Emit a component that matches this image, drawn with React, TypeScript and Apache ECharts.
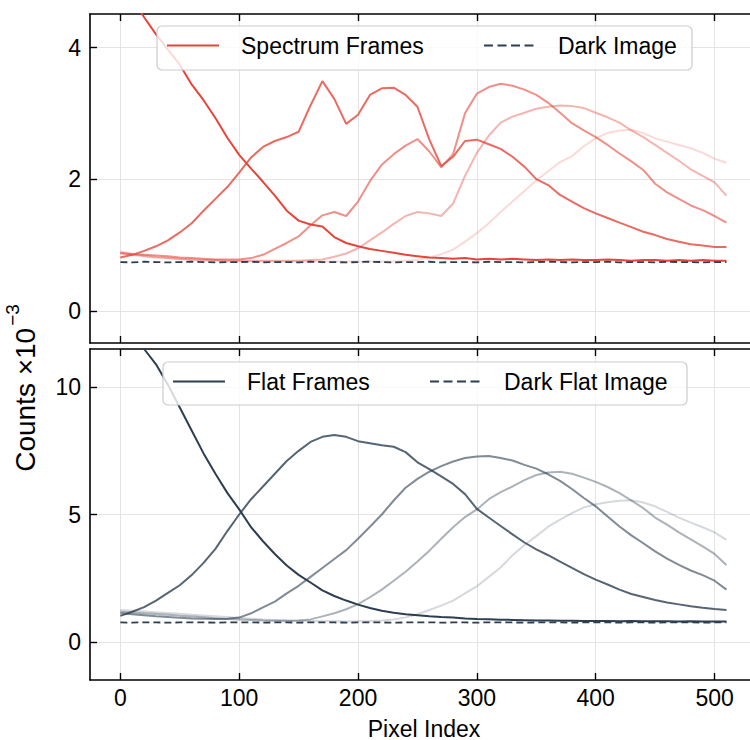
import React, { useEffect, useRef } from "react";
import * as echarts from "echarts";

// Pixel index positions of the sampled points
const PIXEL = [0, 10, 20, 30, 40, 50, 60, 70, 80, 90, 100, 110, 120, 130, 140, 150, 160, 170, 180, 190, 200, 210, 220, 230, 240, 250, 260, 270, 280, 290, 300, 310, 320, 330, 340, 350, 360, 370, 380, 390, 400, 410, 420, 430, 440, 450, 460, 470, 480, 490, 500, 510];

// Top panel: spectrum frames (counts x 1e-3)
const SPEC_1 = [4.95, 4.73, 4.46, 4.2, 3.97, 3.74, 3.44, 3.2, 2.93, 2.63, 2.37, 2.16, 1.96, 1.75, 1.52, 1.37, 1.31, 1.28, 1.12, 1.03, 0.98, 0.94, 0.91, 0.88, 0.85, 0.83, 0.81, 0.8, 0.79, 0.8, 0.78, 0.79, 0.78, 0.79, 0.78, 0.77, 0.78, 0.77, 0.78, 0.77, 0.77, 0.78, 0.77, 0.76, 0.77, 0.77, 0.76, 0.77, 0.76, 0.77, 0.76, 0.76];
const SPEC_2 = [0.81, 0.85, 0.91, 0.98, 1.07, 1.19, 1.33, 1.52, 1.7, 1.88, 2.1, 2.33, 2.49, 2.58, 2.64, 2.72, 3.12, 3.49, 3.22, 2.84, 2.98, 3.28, 3.38, 3.39, 3.28, 3.1, 2.6, 2.2, 2.34, 2.58, 2.6, 2.53, 2.46, 2.34, 2.19, 2.0, 1.91, 1.76, 1.66, 1.56, 1.48, 1.41, 1.34, 1.27, 1.2, 1.15, 1.09, 1.05, 1.01, 0.99, 0.97, 0.97];
const SPEC_3 = [0.88, 0.86, 0.85, 0.84, 0.83, 0.81, 0.8, 0.79, 0.78, 0.78, 0.78, 0.8, 0.85, 0.94, 1.03, 1.13, 1.3, 1.45, 1.5, 1.44, 1.66, 1.97, 2.22, 2.38, 2.51, 2.61, 2.42, 2.18, 2.38, 3.0, 3.3, 3.4, 3.45, 3.42, 3.36, 3.28, 3.16, 3.01, 2.85, 2.74, 2.64, 2.52, 2.39, 2.27, 2.14, 1.93, 1.8, 1.7, 1.6, 1.53, 1.44, 1.34];
const SPEC_4 = [0.87, 0.85, 0.83, 0.81, 0.8, 0.79, 0.78, 0.77, 0.77, 0.76, 0.76, 0.76, 0.76, 0.76, 0.76, 0.76, 0.77, 0.78, 0.82, 0.87, 0.95, 1.07, 1.19, 1.32, 1.44, 1.5, 1.48, 1.44, 1.63, 2.05, 2.4, 2.66, 2.86, 2.95, 3.01, 3.07, 3.1, 3.12, 3.11, 3.08, 3.01, 2.94, 2.86, 2.74, 2.64, 2.52, 2.4, 2.28, 2.15, 2.05, 1.95, 1.75];
const SPEC_5 = [0.9, 0.87, 0.84, 0.82, 0.8, 0.78, 0.77, 0.76, 0.76, 0.75, 0.75, 0.75, 0.75, 0.75, 0.75, 0.75, 0.75, 0.75, 0.75, 0.75, 0.75, 0.75, 0.75, 0.75, 0.76, 0.77, 0.81, 0.86, 0.93, 1.05, 1.18, 1.33, 1.5, 1.66, 1.82, 1.98, 2.12, 2.26, 2.35, 2.5, 2.62, 2.7, 2.74, 2.75, 2.7, 2.62, 2.57, 2.52, 2.47, 2.4, 2.31, 2.25];
const DARK_IMAGE = [0.74, 0.735, 0.745, 0.74, 0.735, 0.74, 0.745, 0.74, 0.735, 0.74, 0.74, 0.745, 0.735, 0.74, 0.74, 0.735, 0.745, 0.74, 0.74, 0.735, 0.74, 0.745, 0.74, 0.735, 0.74, 0.74, 0.745, 0.735, 0.74, 0.74, 0.735, 0.745, 0.74, 0.74, 0.735, 0.74, 0.745, 0.74, 0.735, 0.74, 0.74, 0.745, 0.735, 0.74, 0.74, 0.735, 0.745, 0.74, 0.74, 0.735, 0.74, 0.74];

// Bottom panel: flat frames (counts x 1e-3)
const FLAT_1 = [12.9, 12.2, 11.5, 10.9, 10.1, 9.2, 8.3, 7.4, 6.6, 5.85, 5.2, 4.5, 3.95, 3.45, 3.0, 2.63, 2.33, 2.02, 1.8, 1.62, 1.46, 1.33, 1.22, 1.14, 1.08, 1.04, 1.0, 0.97, 0.95, 0.92, 0.9, 0.89, 0.87, 0.86, 0.85, 0.84, 0.84, 0.83, 0.83, 0.82, 0.82, 0.82, 0.81, 0.82, 0.81, 0.81, 0.81, 0.8, 0.81, 0.8, 0.8, 0.8];
const FLAT_2 = [1.02, 1.18, 1.36, 1.62, 1.92, 2.22, 2.62, 3.1, 3.65, 4.35, 5.0, 5.6, 6.1, 6.6, 7.1, 7.5, 7.85, 8.05, 8.12, 8.05, 7.88, 7.8, 7.72, 7.66, 7.45, 7.05, 6.78, 6.5, 6.2, 5.8, 5.22, 4.88, 4.55, 4.22, 3.9, 3.63, 3.4, 3.15, 2.9, 2.66, 2.44, 2.25, 2.05, 1.88, 1.76, 1.64, 1.54, 1.47, 1.4, 1.34, 1.29, 1.25];
const FLAT_3 = [1.12, 1.08, 1.04, 1.0, 0.97, 0.94, 0.92, 0.91, 0.9, 0.91, 0.95, 1.12, 1.35, 1.58, 1.9, 2.2, 2.55, 2.9, 3.25, 3.6, 4.05, 4.52, 5.0, 5.55, 6.05, 6.4, 6.68, 6.9, 7.08, 7.22, 7.28, 7.3, 7.22, 7.12, 6.95, 6.8, 6.58, 6.32, 6.0, 5.65, 5.32, 4.92, 4.53, 4.18, 3.87, 3.55, 3.27, 3.02, 2.8, 2.62, 2.4, 2.05];
const FLAT_4 = [1.18, 1.15, 1.12, 1.09, 1.06, 1.02, 0.99, 0.96, 0.93, 0.9, 0.88, 0.86, 0.84, 0.83, 0.83, 0.84, 0.88, 1.0, 1.12, 1.28, 1.48, 1.75, 2.05, 2.4, 2.75, 3.15, 3.58, 4.05, 4.5, 4.9, 5.2, 5.6, 5.88, 6.1, 6.35, 6.55, 6.65, 6.68, 6.6, 6.45, 6.28, 6.08, 5.84, 5.55, 5.25, 4.88, 4.6, 4.3, 4.02, 3.75, 3.45, 3.02];
const FLAT_5 = [1.25, 1.22, 1.19, 1.16, 1.13, 1.1, 1.06, 1.03, 1.0, 0.97, 0.94, 0.91, 0.88, 0.86, 0.84, 0.83, 0.82, 0.81, 0.81, 0.8, 0.81, 0.82, 0.84, 0.88, 0.96, 1.08, 1.25, 1.42, 1.62, 1.9, 2.18, 2.55, 2.92, 3.4, 3.8, 4.15, 4.52, 4.8, 5.05, 5.28, 5.4, 5.48, 5.54, 5.56, 5.47, 5.32, 5.1, 4.88, 4.68, 4.5, 4.3, 4.0];
const DARK_FLAT = [0.76, 0.755, 0.765, 0.76, 0.755, 0.76, 0.765, 0.76, 0.755, 0.76, 0.76, 0.765, 0.755, 0.76, 0.76, 0.755, 0.765, 0.76, 0.76, 0.755, 0.76, 0.765, 0.76, 0.755, 0.76, 0.76, 0.765, 0.755, 0.76, 0.76, 0.755, 0.765, 0.76, 0.76, 0.755, 0.76, 0.765, 0.76, 0.755, 0.76, 0.76, 0.765, 0.755, 0.76, 0.76, 0.755, 0.765, 0.76, 0.76, 0.755, 0.76, 0.76];

const X_TICKS = [0, 100, 200, 300, 400, 500];
const TOP_Y_TICKS = [0, 2, 4];
const BOTTOM_Y_TICKS = [0, 5, 10];
const FRAME_ALPHAS = [1, 0.8, 0.6, 0.4, 0.2];

const FONT = "Liberation Sans";
const RED = "228, 70, 58";
const NAVY = "44, 62, 80";

const SOLID_ICON = "path://M0,0h52v2h-52z";
const DASH_ICON = "path://M0,0h9v2h-9zM13.5,0h9v2h-9zM27,0h9v2h-9zM40.5,0h9v2h-9zM52,0h0.01v2h-0.01z";

const pts = (ys: number[]) => PIXEL.map((x, i) => [x, ys[i]]);

function makeX(grid: number, pos: "top" | "bottom", labels: boolean, split: boolean, name?: string) {
  return {
    type: "value",
    gridIndex: grid,
    position: pos,
    min: -25.55,
    max: 536.55,
    name: name,
    nameLocation: "middle",
    nameGap: 37,
    nameTextStyle: { fontSize: 23, color: "#000", fontFamily: FONT },
    axisLine: { show: true, onZero: false, lineStyle: { color: "#000", width: 1.6 } },
    axisTick: { show: true, inside: true, length: 7, customValues: X_TICKS, lineStyle: { color: "#000", width: 1.4 } },
    axisLabel: { show: labels, customValues: X_TICKS, fontSize: 23, color: "#000", fontFamily: FONT, margin: 6 },
    splitLine: { show: split, lineStyle: { color: "#e4e4e4", width: 1 } },
  };
}

function makeY(grid: number, min: number, max: number, ticks: number[]) {
  return {
    type: "value",
    gridIndex: grid,
    min,
    max,
    axisLine: { show: true, onZero: false, lineStyle: { color: "#000", width: 1.6 } },
    axisTick: { show: true, inside: true, length: 7, customValues: ticks, lineStyle: { color: "#000", width: 1.4 } },
    axisLabel: { show: true, customValues: ticks, fontSize: 23, color: "#000", fontFamily: FONT, margin: 9 },
    splitLine: { show: true, lineStyle: { color: "#e4e4e4", width: 1 } },
  };
}

function lineSeries(name: string, ys: number[], color: string, grid: number, dashed = false) {
  return {
    type: "line",
    name,
    xAxisIndex: grid === 0 ? 0 : 2,
    yAxisIndex: grid,
    data: pts(ys),
    symbol: "none",
    showSymbol: false,
    silent: true,
    lineStyle: { color, width: dashed ? 1.8 : 2, type: dashed ? [7, 4] : "solid" },
    itemStyle: { color },
  };
}

function legend(name: string, left: number, top: number, dashed: boolean) {
  return {
    data: [{ name, icon: dashed ? DASH_ICON : SOLID_ICON }],
    left,
    top,
    orient: "horizontal",
    padding: 0,
    itemWidth: 52,
    itemHeight: 2,
    z: 20,
    selectedMode: false,
    textStyle: { fontSize: 23, color: "#000", fontFamily: FONT, padding: [0, 0, 0, 17] },
  };
}

const specSets = [SPEC_1, SPEC_2, SPEC_3, SPEC_4, SPEC_5];
const flatSets = [FLAT_1, FLAT_2, FLAT_3, FLAT_4, FLAT_5];

const series: any[] = [];
specSets.forEach((ys, i) => {
  series.push(lineSeries(i === 0 ? "Spectrum Frames" : "Spectrum Frame " + (i + 1), ys, `rgba(${RED}, ${FRAME_ALPHAS[i]})`, 0));
});
series.push(lineSeries("Dark Image", DARK_IMAGE, `rgb(${NAVY})`, 0, true));
flatSets.forEach((ys, i) => {
  series.push(lineSeries(i === 0 ? "Flat Frames" : "Flat Frame " + (i + 1), ys, `rgba(${NAVY}, ${FRAME_ALPHAS[i]})`, 1));
});
series.push(lineSeries("Dark Flat Image", DARK_FLAT, `rgb(${NAVY})`, 1, true));

const option = {
  animation: false,
  backgroundColor: "#ffffff",
  textStyle: { fontFamily: FONT },
  grid: [
    { left: 90, top: 14, width: 668, height: 329, outerBoundsMode: "none", containLabel: false },
    { left: 90, top: 349, width: 668, height: 331, outerBoundsMode: "none", containLabel: false },
  ],
  xAxis: [
    makeX(0, "bottom", false, true),
    makeX(0, "top", false, false),
    makeX(1, "bottom", true, true, "Pixel Index"),
    makeX(1, "top", false, false),
  ],
  yAxis: [makeY(0, -0.49, 4.51, TOP_Y_TICKS), makeY(1, -1.5, 11.5, BOTTOM_Y_TICKS)],
  legend: [
    legend("Spectrum Frames", 167, 34, false),
    legend("Dark Image", 484, 34, true),
    legend("Flat Frames", 173, 370, false),
    legend("Dark Flat Image", 430, 370, true),
  ],
  graphic: [
    {
      type: "rect",
      z: 10,
      shape: { x: 157, y: 26, width: 535, height: 44, r: 5 },
      style: { fill: "rgba(255,255,255,0.8)", stroke: "#cccccc", lineWidth: 1.2 },
    },
    {
      type: "rect",
      z: 10,
      shape: { x: 163, y: 362, width: 524, height: 43, r: 5 },
      style: { fill: "rgba(255,255,255,0.8)", stroke: "#cccccc", lineWidth: 1.2 },
    },
    {
      type: "text",
      z: 10,
      x: 21,
      y: 388,
      rotation: Math.PI / 2,
      style: {
        text: "{base|Counts ×10}{sup|−3}",
        align: "center",
        verticalAlign: "middle",
        fill: "#000",
        rich: {
          base: { fontSize: 28, fontFamily: FONT, lineHeight: 36, verticalAlign: "bottom", fill: "#000" },
          sup: { fontSize: 19, fontFamily: FONT, lineHeight: 22, verticalAlign: "top", fill: "#000", padding: [0, 0, 0, 2] },
        },
      },
    },
  ],
  series,
};

export default function App() {
  const ref = useRef<HTMLDivElement>(null);
  useEffect(() => {
    const chart = echarts.init(ref.current as HTMLDivElement, null, { renderer: "svg" });
    chart.setOption(option as any);
    return () => chart.dispose();
  }, []);
  return (
    <div style={{ position: "absolute", left: 0, top: 0, width: 750, height: 740, overflow: "hidden", background: "#fff" }}>
      <div ref={ref} style={{ width: 780, height: 740 }} />
    </div>
  );
}
